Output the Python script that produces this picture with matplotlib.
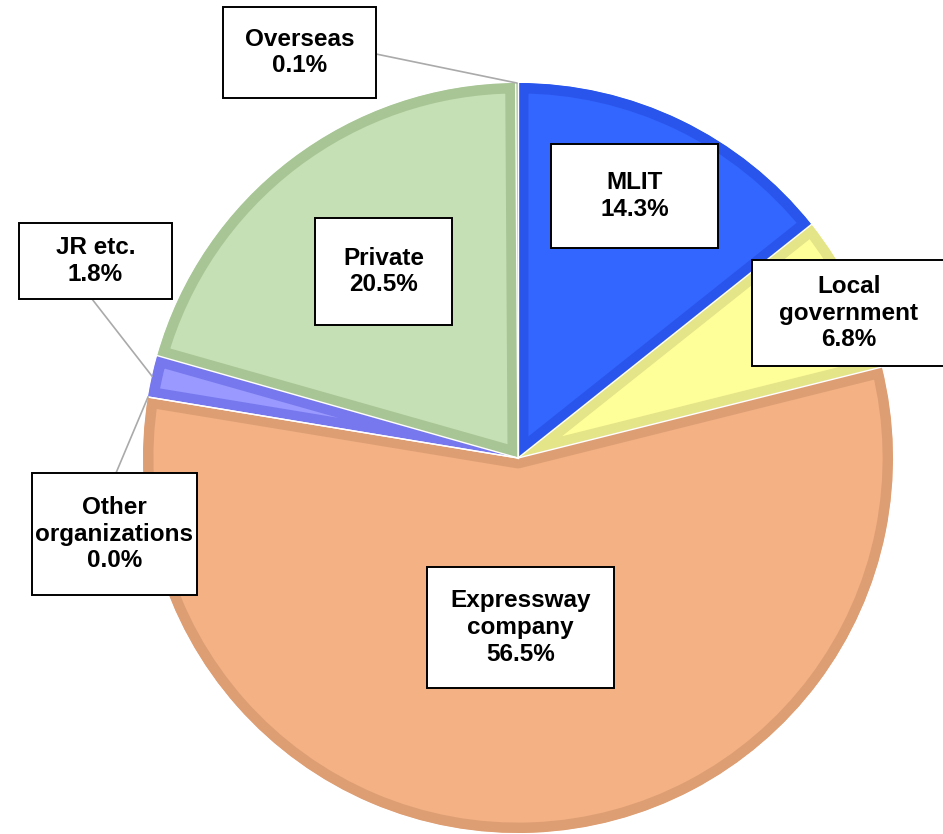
import numpy as np
import matplotlib
matplotlib.use('Agg')
import matplotlib.pyplot as plt
from matplotlib.patches import Rectangle

# data (clockwise from 12 o'clock)
labels = ['MLIT', 'Local\ngovernment', 'Expressway\ncompany', 'Other\norganizations',
          'JR etc.', 'Private', 'Overseas']
shares = [14.3, 6.8, 56.5, 0.0, 1.8, 20.5, 0.1]
fills = ['#3366FF', '#FFFF99', '#F4B183', '#FFFFFF', '#9999FF', '#C5E0B4', '#C5E0B4']
borders = ['#2A55EC', '#E4E488', '#DE9E74', '#FFFFFF', '#7878EE', '#A8C596', '#A8C596']

W, H = 943, 834
cx, cy, R = 518, H - 458, 375

# label boxes in pixel coords: (left, top, right, bottom)
boxes = [(551, 144, 718, 248), (752, 260, 946, 366), (427, 567, 614, 688),
         (32, 473, 197, 595), (19, 223, 172, 299), (315, 218, 452, 325),
         (223, 7, 376, 98)]
# leader line start on box (pixel), None = label sits inside its slice
leaders = [None, None, None, (116, 473), (92, 299), None, (376, 54)]

plt.rcParams['font.family'] = ['Liberation Sans', 'DejaVu Sans']
fig = plt.figure(figsize=(W / 100, H / 100), dpi=100)
ax = fig.add_axes([0, 0, 1, 1])

wedges, _ = ax.pie(shares, colors=fills, startangle=90, counterclock=False,
                   center=(cx, cy), radius=R)
for w, bc in zip(wedges, borders):
    w.set_edgecolor(bc)
    w.set_linewidth(15)
    w.set_joinstyle('round')
    w.set_clip_on(True)
    w.set_clip_path(w)

# thin white gaps between slices
for w in wedges:
    a = np.deg2rad(w.theta1)
    ax.plot([cx, cx + R * np.cos(a)], [cy, cy + R * np.sin(a)],
            color='white', linewidth=1.0, zorder=3)

for i, (lab, val) in enumerate(zip(labels, shares)):
    l, t, r, b = boxes[i]
    ax.add_patch(Rectangle((l, H - b), r - l, b - t, facecolor='white',
                           edgecolor='black', linewidth=1.4, zorder=5))
    ax.text((l + r) / 2, H - (t + b) / 2, f'{lab}\n{val:.1f}%', ha='center', va='center',
            fontsize=17.5, fontweight='bold', linespacing=1.2, zorder=6)
    if leaders[i] is not None:
        w = wedges[i]
        ang = np.deg2rad((w.theta1 + w.theta2) / 2)
        px, py = cx + R * np.cos(ang), cy + R * np.sin(ang)
        sx, sy = leaders[i]
        ax.plot([sx, px], [H - sy, py], color='#AAAAAA', linewidth=1.2, zorder=4)

ax.set_xlim(0, W)
ax.set_ylim(0, H)
ax.set_aspect('equal')
ax.axis('off')
fig.savefig('out.png', dpi=100, facecolor='white')
